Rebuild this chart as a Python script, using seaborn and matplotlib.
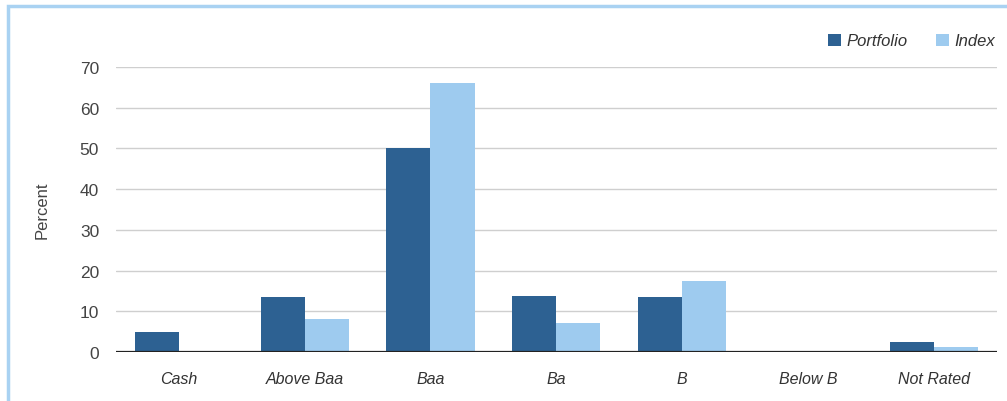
import pandas as pd
import matplotlib
matplotlib.use("Agg")
import matplotlib.pyplot as plt
import seaborn as sns
from matplotlib.patches import Rectangle

categorias = ["Cash", "Above Baa", "Baa", "Ba", "B", "Below B", "Not Rated"]
portfolio = [4.9, 13.5, 50.0, 13.8, 13.5, 0.2, 2.5]
index = [0.0, 8.0, 66.0, 7.1, 17.4, 0.3, 1.2]

df = pd.DataFrame({
    "categoria": categorias * 2,
    "percent": portfolio + index,
    "serie": ["Portfolio"] * len(categorias) + ["Index"] * len(categorias),
})

sns.set_theme(style="white")
plt.rcParams["font.family"] = ["Liberation Sans", "DejaVu Sans"]

fig = plt.figure(figsize=(10.07, 4.02), dpi=100)
ax = fig.add_axes([0.115, 0.122, 0.875, 0.709])

cores = {"Portfolio": "#2d6192", "Index": "#9ecbef"}
sns.barplot(data=df, x="categoria", y="percent", hue="serie", palette=cores,
            width=0.7, gap=0, ax=ax, saturation=1, legend=True, linewidth=0)

ax.set_ylim(0, 70)
ax.set_xlim(-0.5, 6.5)
ax.set_yticks(range(0, 71, 10))
ax.yaxis.grid(True, color="#cfcfcf", linewidth=1)
ax.set_axisbelow(True)
for s in ax.spines.values():
    s.set_visible(False)
ax.axhline(0, color="#222222", linewidth=1.6, zorder=5)

ax.tick_params(axis="y", length=0, pad=12, labelsize=12.5, labelcolor="#444444")
ax.tick_params(axis="x", length=0, pad=14, labelsize=11.5, labelcolor="#333333")
for lbl in ax.get_xticklabels():
    lbl.set_fontstyle("italic")
ax.set_xlabel("")
ax.set_ylabel("Percent", fontsize=12, color="#444444", labelpad=22)

leg = ax.legend(loc="upper right", bbox_to_anchor=(1.015, 1.17), ncol=2, frameon=False,
                handlelength=0.75, handleheight=0.75, handletextpad=0.35,
                columnspacing=1.7, prop={"style": "italic", "size": 12})
for t in leg.get_texts():
    t.set_color("#333333")

# moldura azul clara
fig.patches.append(Rectangle((8 / 1007, -0.1), 1.1, 1 - 7 / 402 + 0.1,
                             transform=fig.transFigure, fill=False,
                             edgecolor="#a9d2f2", linewidth=2.5))

fig.savefig("out.png", dpi=100)
